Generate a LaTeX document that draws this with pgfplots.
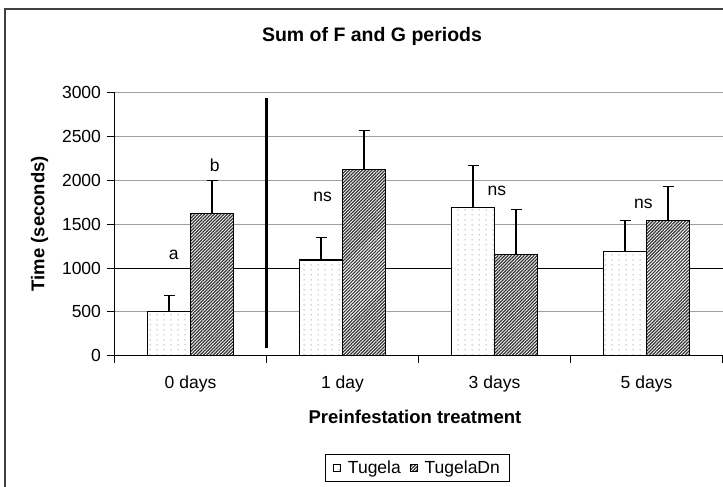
\documentclass[border=0pt]{standalone}
\usepackage{fontspec}
\setmainfont{Liberation Sans}
\usepackage{pgfplots}
\pgfplotsset{compat=1.18}
\usetikzlibrary{patterns, patterns.meta}

% sparse grey dots, like the Excel fill of the first series
\tikzdeclarepattern{
  name=sparsedots,
  type=uncolored,
  bounding box={(0pt,0pt) and (7pt,5pt)},
  tile size={(7pt,5pt)},
  code={\pgfpathcircle{\pgfpoint{3.5pt}{2.5pt}}{0.7pt}\pgfusepath{fill}}
}

\newcommand{\ticksize}{\fontsize{17.5}{21}\selectfont}
\newcommand{\labsize}{\bfseries\fontsize{18.5}{22}\selectfont}

\begin{document}
\begin{tikzpicture}
\begin{axis}[
    at={(114.5pt,131.3pt)}, anchor=south west,
    scale only axis, width=608pt, height=263pt,
    ybar=0pt, bar width=43pt,
    xmin=-0.5, xmax=3.5, ymin=0, ymax=3000,
    enlarge x limits=false,
    axis x line*=bottom, axis y line*=left,
    axis line style={black, line width=1pt},
    xtick={-0.5,0.5,1.5,2.5,3.5},
    x tick label as interval,
    xticklabels={0 days, 1 day, 3 days, 5 days},
    xticklabel style={yshift=-10pt},
    ytick={0,500,1000,1500,2000,2500,3000},
    yticklabel style={xshift=-3pt},
    extra y ticks={1000}, extra y tick labels={},
    extra y tick style={major grid style={black, line width=1pt}},
    tick align=outside, major tick length=7pt,
    tick style={black, line width=1pt},
    ymajorgrids, major grid style={gray!75, line width=1pt},
    tick label style={font=\ticksize},
    /pgf/number format/assume math mode=true,
    /pgf/number format/1000 sep={},
    title={Sum of F and G periods},
    every axis title shift=0pt,
    title style={font=\bfseries\fontsize{19.5}{23}\selectfont,
        at={(axis description cs:0.4235,1.2129)}, anchor=center},
    xlabel={Preinfestation treatment},
    xlabel style={font=\labsize, at={(axis description cs:0.4942,-0.2319)}, anchor=center},
    ylabel={Time (seconds)},
    ylabel style={font=\labsize, at={(axis description cs:-0.1234,0.5019)}, anchor=center, rotate=0},
    legend columns=2,
    legend style={at={(0.4984,-0.427)}, anchor=center, draw=black, line width=1pt,
        font=\ticksize, inner xsep=8pt, inner ysep=4.5pt,
        /tikz/every odd column/.append style={column sep=5pt},
        /tikz/every even column/.append style={column sep=7pt}},
    legend image code/.code={\draw[#1, line width=0.8pt] (0pt,-3.5pt) rectangle (7pt,3.5pt);},
    error bars/y dir=plus, error bars/y explicit,
    error bars/error bar style={black, line width=1.2pt},
    error bars/error mark options={black, line width=1.2pt, mark size=5.5pt, rotate=90},
]
\addplot[draw=black, line width=1.2pt, fill=white,
    postaction={pattern=sparsedots, pattern color=gray!90}]
    coordinates {(0,505) +- (0,183) (1,1092) +- (0,259) (2,1686) +- (0,483) (3,1191) +- (0,350)};
\addplot[draw=black, line width=1.2pt, fill=white,
    postaction={pattern={Lines[angle=45, distance=2.3pt, line width=1.2pt]}, pattern color=black!80}]
    coordinates {(0,1618) +- (0,380) (1,2126) +- (0,446) (2,1156) +- (0,511) (3,1541) +- (0,392)};
\legend{Tugela, TugelaDn}

% separator between the control and the preinfestation groups
\draw[black, line width=3pt] (axis cs:0.5,91) -- (axis cs:0.5,2936);

% significance letters
\node[font=\ticksize] at (axis cs:-0.11,1149) {a};
\node[font=\ticksize] at (axis cs:0.16,2175) {b};
\node[font=\ticksize] at (axis cs:0.87,1807) {ns};
\node[font=\ticksize] at (axis cs:2.015,1879) {ns};
\node[font=\ticksize] at (axis cs:2.98,1727) {ns};
\end{axis}
% chart area border
\draw[black!75, line width=1.5pt] (5pt,-10pt) rectangle (740pt,478pt);
\pgfresetboundingbox
\path[use as bounding box] (0pt,0pt) rectangle (723pt,487pt);
\end{tikzpicture}
\end{document}
